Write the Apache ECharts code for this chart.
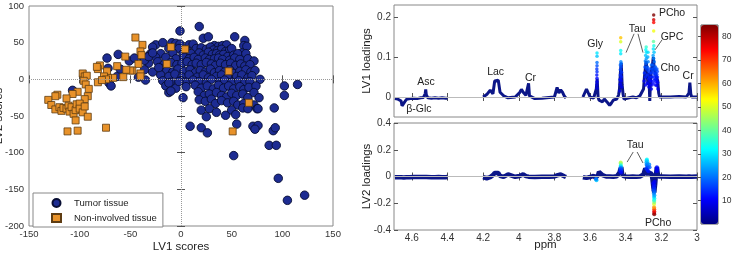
<!DOCTYPE html>
<html>
<head>
<meta charset="utf-8">
<script src="https://cdn.jsdelivr.net/npm/echarts@6/dist/echarts.min.js"></script>
<style>
html, body { margin: 0; padding: 0; background: #fff; }
#chart { width: 733px; height: 253px; }
</style>
</head>
<body>
<div id="chart"></div>
<script>
// PLS-DA scores: [LV1, LV2]
const tumor = [
    [18,72],[-1,66],[22,56],[27,58],[53,58],[63,53],[-25,47],
    [-18,50],[-9,50],[-5,49],[-1,48],[8,47],[12,48],[33,46],[37,45],[41,46],[45,47],[62,46],[65,45],
    [-28,44],[-12,42],[-2,42],[5,40],[15,42],[20,43],[25,41],[29,44],[32,40],[36,39],[40,41],[44,38],[48,40],[50,42],[60,36],
    [-30,35],[-20,35],[-8,36],[2,35],[10,35],[18,36],[22,33],[27,37],[31,34],[35,35],[38,33],[42,34],[46,31],[52,33],[56,35],[64,35],
    [-35,30],[-25,30],[-15,30],[-5,28],[3,30],[8,28],[13,30],[17,27],[24,29],[28,27],[33,28],[37,29],[41,27],[48,26],[53,29],[58,27],[66,28],[72,25],
    [-32,22],[-23,24],[-17,20],[-10,23],[-4,20],[1,22],[6,24],[11,20],[15,22],[20,20],[25,23],[30,21],[34,19],[39,22],[44,20],[49,22],[54,19],[59,21],[63,18],[68,20],
    [-36,13],[-28,10],[-20,15],[-14,12],[-8,10],[-3,14],[3,11],[9,13],[14,9],[19,12],[24,10],[29,14],[33,9],[38,12],[43,10],[48,13],[52,8],[58,11],[64,13],[69,10],[73,12],
    [-20,6],[-12,4],[-6,7],[1,3],[8,6],[16,3],[22,6],[27,2],[35,4],[40,6],[46,3],[55,4],[60,6],[66,2],[70,5],
    [-35,-1],[-18,-2],[-10,-4],[0,-2],[5,-4],[12,-1],[18,-3],[25,-5],[30,0],[38,-3],[43,-1],[50,-4],[57,-2],[63,-4],[68,-3],[78,0],
    [-15,-9],[-5,-12],[5,-10],[14,-8],[20,-12],[26,-9],[32,-13],[37,-8],[42,-12],[47,-9],[52,-13],[58,-10],[62,-14],[67,-11],[74,-9],
    [-12,-18],[2,-25],[17,-17],[23,-22],[28,-20],[35,-18],[40,-22],[45,-24],[50,-19],[55,-22],[61,-20],[66,-25],[72,-18],[77,-25],
    [18,-28],[24,-30],[30,-27],[34,-33],[40,-29],[46,-32],[52,-30],[56,-35],[62,-33],[66,-38],[72,-35],[75,-40],[92,-39],
    [20,-42],[25,-51],[28,-40],[35,-45],[44,-49],[50,-42],[54,-48],[61,-39],[66,-40],[76,-40],[55,-61],[9,-64],[20,-66],[26,-73],
    [71,-64],[76,-63],[73,-68],[91,-70],[93,-66],[87,-90],[94,-90],[96,-135],[105,-165],[122,-158],[52,-104],[102,-9],[115,-7],[102,-22],
    [-107,-15],[-73,29],[-62,34],[-72,15],[-71,-5],[-69,-9],[-63,4],[-60,14],[-51,25],[-46,29],[-38,31],[-36,26],[-32,31],[-28,36],
    [-22,16],[-12,-5],[-10,-16],[-2,-3],[-42,3]
];
const nonInvolved = [
    [-45,57],[-38,47],[-40,38],[-39,33],[-42,21],[-40,8],[-40,4],[-48,12],[-50,12],[-54,13],[-57,3],[-55,31],[-63,18],[-67,2],
    [-73,11],[-72,2],[-76,4],[-74,0],[-80,19],[-82,14],[-83,17],[-82,-4],[-78,-1],[-97,8],[-95,4],[-93,5],[-96,-2],[-94,-7],
    [-91,-13],[-92,-23],[-95,-27],[-102,-17],[-107,-20],[-113,-26],[-122,-21],[-124,-23],[-131,-28],[-128,-35],[-124,-41],
    [-120,-38],[-118,-43],[-116,-39],[-113,-40],[-111,-36],[-110,-44],[-108,-38],[-106,-47],[-104,-42],[-103,-34],[-100,-33],
    [-100,-40],[-97,-45],[-95,-37],[-92,-51],[-104,-56],[-112,-71],[-102,-70],[-74,-66],[-10,44],[4,41],[-14,21],[47,11],[67,-32],[51,-71]
];

// loadings trace (null = excluded spectral region)
const ppm = [
    4.695,4.68,4.67,4.66,4.655,4.645,4.64,4.63,4.61,4.59,4.57,4.55,4.535,4.525,4.522,4.519,4.51,4.49,4.47,4.45,4.43,4.41,4.40,
    null,
    4.20,4.18,4.16,4.145,4.135,4.125,4.115,4.105,4.085,4.06,4.05,4.02,3.995,3.985,3.975,3.96,3.945,3.94,3.91,3.87,3.83,3.80,3.785,3.775,3.765,3.755,3.745,3.735,
    null,
    3.64,3.63,3.62,3.61,3.60,3.58,3.57,3.565,3.56,3.555,3.55,3.53,3.52,3.51,3.50,3.49,3.48,3.47,3.46,3.45,3.44,3.435,3.43,3.425,3.42,3.415,3.41,3.40,3.38,3.36,
    3.34,3.32,3.31,3.30,3.295,3.29,3.285,3.28,3.275,3.27,3.265,3.26,3.255,3.25,3.245,3.24,3.235,3.23,3.225,3.22,3.215,3.21,3.20,3.15,3.10,3.06,3.045,3.04,3.035,3.03,3.00
];
const lv1 = [
    -0.004,-0.005,-0.006,-0.010,-0.022,-0.022,-0.012,-0.006,-0.004,-0.003,-0.004,-0.002,-0.001,0.008,0.019,0.006,-0.002,-0.003,-0.002,-0.003,-0.002,-0.003,-0.003,
    null,
    0.000,0.006,0.017,0.008,0.040,0.044,0.042,0.012,0.003,-0.002,-0.004,0.000,0.011,0.019,0.012,0.004,0.034,0.003,-0.004,-0.003,-0.001,0.000,0.024,0.010,0.018,0.012,0.003,-0.003,
    null,
    0.000,0.005,0.020,0.010,0.000,-0.003,-0.005,0.020,0.045,0.000,-0.008,-0.012,-0.005,-0.010,-0.015,-0.021,-0.015,-0.008,-0.010,-0.005,
    0.005,0.020,0.060,0.085,0.030,0.008,-0.005,0.000,-0.002,0.000,-0.002,0.003,0.008,0.020,0.050,0.070,0.090,0.060,0.030,0.060,
    -0.010,0.050,0.070,0.080,0.100,0.070,0.060,0.065,0.060,0.040,0.010,0.000,0.002,0.000,0.001,0.000,0.010,0.036,0.008,0.000,0.000
];
const lv2 = [
    -0.006,-0.005,-0.006,-0.006,-0.007,-0.007,-0.006,-0.005,-0.005,-0.004,-0.004,-0.003,-0.003,-0.002,-0.001,-0.003,-0.004,-0.005,-0.005,-0.004,-0.005,-0.005,-0.004,
    null,
    -0.005,-0.013,-0.005,0.010,0.026,0.028,0.026,0.005,-0.003,0.016,0.002,-0.002,0.004,0.008,0.016,0.003,-0.001,-0.002,-0.003,-0.002,-0.002,0.000,0.008,0.012,0.015,0.006,0.002,-0.004,
    null,
    -0.005,-0.013,-0.010,0.000,-0.004,0.005,-0.010,-0.020,-0.015,0.010,0.035,0.010,0.003,0.000,-0.002,0.000,0.000,-0.002,0.000,0.002,
    0.010,0.030,0.055,0.070,0.020,0.005,0.000,0.000,-0.002,0.000,-0.001,0.000,0.005,0.015,0.040,0.060,0.070,0.030,0.010,0.030,
    0.020,0.040,0.020,-0.020,-0.080,-0.120,-0.060,0.020,0.070,0.020,0.000,-0.002,0.000,-0.001,0.000,-0.001,0.000,0.002,0.000,-0.001,0.000
];

// coloured points: [ppm, loading, colour value]
const lv1Dots = [
    [3.561,0.110,30],[3.561,0.102,27],[3.561,0.086,20],[3.561,0.078,17],[3.562,0.070,15],[3.561,0.063,14],[3.562,0.055,12],[3.561,0.047,11],[3.561,0.038,10],[3.562,0.030,9],[3.561,0.022,8],
    [3.428,0.148,58],[3.428,0.138,50],[3.428,0.116,33],[3.428,0.108,30],[3.427,0.088,22],[3.425,0.084,20],[3.430,0.080,19],[3.426,0.075,17],[3.430,0.068,16],[3.424,0.062,15],[3.430,0.055,14],[3.425,0.050,13],[3.432,0.044,12],[3.426,0.040,11],[3.430,0.032,10],[3.424,0.025,9],[3.433,0.015,8],
    [3.285,0.125,36],[3.287,0.118,32],[3.284,0.112,30],[3.288,0.104,27],[3.284,0.096,24],[3.290,0.090,21],[3.286,0.084,19],[3.292,0.075,17],[3.283,0.070,16],[3.295,0.060,14],[3.290,0.050,13],[3.297,0.040,11],[3.288,0.030,10],
    [3.275,0.112,29],[3.276,0.100,25],[3.274,0.088,21],[3.278,0.075,18],[3.273,0.065,16],[3.279,0.055,14],[3.272,0.045,12],[3.278,0.035,11],[3.270,0.025,9],
    [3.266,0.070,16],[3.264,0.060,14],[3.266,0.050,13],[3.263,0.040,12],[3.266,0.030,10],
    [3.256,0.080,19],[3.254,0.070,17],[3.257,0.060,15],[3.253,0.050,13],[3.256,0.040,11],[3.252,0.030,10],[3.256,0.020,9],
    [3.243,0.205,85],[3.243,0.193,78],[3.243,0.186,74],[3.243,0.165,52],[3.244,0.139,40],[3.242,0.128,34],[3.245,0.120,30],[3.241,0.112,27],[3.246,0.104,24],[3.243,0.096,22],[3.240,0.088,20],[3.246,0.080,18],[3.241,0.072,17],[3.247,0.065,16],[3.240,0.058,15],[3.245,0.050,13],[3.240,0.042,12],[3.246,0.035,11],
    [3.233,0.075,18],[3.231,0.068,17],[3.234,0.060,15],[3.230,0.052,14],[3.234,0.045,12],[3.229,0.038,11],[3.233,0.030,10],
    [3.225,0.070,17],[3.223,0.064,16],[3.226,0.057,15],[3.222,0.050,13],[3.225,0.043,12],[3.221,0.036,11],[3.225,0.028,10],[3.219,0.020,9]
];
const lv2Dots = [
    [3.566,-0.022,25],[3.564,-0.028,27],[3.566,-0.016,20],
    [3.428,0.105,48],[3.428,0.098,44],[3.427,0.085,35],[3.428,0.075,28],[3.426,0.066,22],[3.430,0.058,18],[3.425,0.050,16],[3.430,0.040,13],[3.426,0.030,11],
    [3.281,0.128,32],[3.283,0.120,30],[3.279,0.112,28],[3.284,0.104,26],[3.278,0.096,24],[3.283,0.088,22],[3.280,0.080,20],[3.276,0.070,17],[3.284,0.060,15],[3.279,0.050,13],[3.273,0.040,12],[3.268,0.090,22],[3.266,0.070,18],
    [3.240,-0.283,85],[3.240,-0.272,82],[3.240,-0.260,76],[3.240,-0.245,70],[3.241,-0.230,62],[3.241,-0.205,50],[3.240,-0.190,42],[3.241,-0.178,36],[3.239,-0.165,32],[3.241,-0.152,28],
    [3.239,-0.140,25],[3.242,-0.128,22],[3.239,-0.115,20],[3.243,-0.102,18],[3.240,-0.090,15],[3.244,-0.078,13],[3.240,-0.065,12],[3.245,-0.050,11],[3.238,-0.040,10],
    [3.225,0.070,12],[3.226,0.060,11],[3.224,0.050,10],[3.226,0.040,9]
];

const ppmTicks = [3, 3.2, 3.4, 3.6, 3.8, 4, 4.2, 4.4, 4.6];
const lv1Ticks = [0, 0.1, 0.2];
const colorTicks = [10, 20, 30, 40, 50, 60, 70, 80];

// peak annotations: [text, ppm, loading]
const lv1Labels = [['Asc',4.52,0.037],['β-Glc',4.56,-0.03],['Lac',4.13,0.062],['Cr',3.934,0.047],['Gly',3.571,0.133],
    ['Tau',3.336,0.17],['PCho',3.14,0.21],['GPC',3.14,0.15],['Cho',3.151,0.072],['Cr',3.05,0.052]];
const lv1Leaders = [[[3.353,0.158],[3.398,0.111]],[[3.331,0.158],[3.303,0.111]],[[3.196,0.143],[3.235,0.118]]];
const lv2Labels = [['Tau',3.347,0.235],['PCho',3.218,-0.348]];
const lv2Leaders = [[[3.358,0.183],[3.392,0.108]],[[3.336,0.183],[3.303,0.101]]];

const jet = ['#000080','#0000ff','#0080ff','#00ffff','#80ff80','#ffff00','#ff8000','#ff0000','#800000'];
const font = "'Liberation Sans', Arial, sans-serif";
const navy = '#0c1688';

function traceData(vals) {
    return ppm.map((p, i) => p === null ? [null, null] : [p, vals[i]]);
}

function frame(gridIndex, pos, range, extra) {
    return Object.assign({
        type: 'value', gridIndex: gridIndex, position: pos,
        min: range[0], max: range[1],
        axisLine: { show: false },
        axisTick: { inside: true, length: 4, lineStyle: { color: '#555' } },
        axisLabel: { color: '#333', fontSize: 10, fontFamily: font, margin: 3 },
        splitLine: { show: false },
        nameMoveOverlap: false,
        nameTextStyle: { color: '#222', fontSize: 11.5, fontFamily: font }
    }, extra || {});
}

function labelMarks(labels) {
    return {
        symbol: 'rect', symbolSize: 1, silent: true,
        itemStyle: { color: 'rgba(0,0,0,0)' },
        label: { show: true, position: 'inside', formatter: '{b}', color: '#222', fontSize: 10.5, fontFamily: font },
        data: labels.map(l => ({ name: l[0], coord: [l[1], l[2]] }))
    };
}

function leaderMarks(leaders) {
    return {
        symbol: ['none', 'none'], silent: true,
        label: { show: false },
        lineStyle: { color: '#333', width: 0.8, type: 'solid' },
        data: leaders.map(l => [{ coord: l[0] }, { coord: l[1] }])
    };
}

function zeroLine(xi, yi, opts) {
    return {
        type: 'line', xAxisIndex: xi, yAxisIndex: yi, data: [], z: 1, silent: true,
        markLine: Object.assign({ symbol: ['none', 'none'], silent: true, label: { show: false }, animation: false }, opts)
    };
}

const noLabel = { show: false };
const grid = { show: true, borderColor: '#888', borderWidth: 1, backgroundColor: '#fff', outerBoundsMode: 'none', containLabel: false };

const chart = echarts.init(document.getElementById('chart'));
chart.setOption({
    animation: false,
    textStyle: { fontFamily: font },
    grid: [
        Object.assign({ left: 29, top: 6, width: 304, height: 220 }, grid),
        Object.assign({ left: 394, top: 5, width: 303, height: 112 }, grid),
        Object.assign({ left: 394, top: 123, width: 303, height: 107 }, grid),
        Object.assign({ left: 701, top: 25, width: 17, height: 199 }, grid, { backgroundColor: 'transparent', borderColor: '#555' })
    ],
    xAxis: [
        frame(0, 'bottom', [-150, 150], { interval: 50, name: 'LV1 scores', nameLocation: 'middle', nameGap: 15,
            axisLabel: { color: '#333', fontSize: 9.5, fontFamily: font, margin: 3 } }),
        frame(0, 'top', [-150, 150], { interval: 50, axisLabel: noLabel }),
        frame(1, 'bottom', [3, 4.7], { inverse: true, axisLabel: { show: false, customValues: ppmTicks },
            axisTick: { inside: true, length: 4, lineStyle: { color: '#555' }, customValues: ppmTicks } }),
        frame(1, 'top', [3, 4.7], { inverse: true, axisLabel: { show: false, customValues: ppmTicks },
            axisTick: { inside: true, length: 4, lineStyle: { color: '#555' }, customValues: ppmTicks } }),
        frame(2, 'bottom', [3, 4.7], { inverse: true, name: 'ppm', nameLocation: 'middle', nameGap: 9,
            axisLabel: { color: '#333', fontSize: 10, fontFamily: font, margin: 3, customValues: ppmTicks },
            axisTick: { inside: true, length: 4, lineStyle: { color: '#555' }, customValues: ppmTicks } }),
        frame(2, 'top', [3, 4.7], { inverse: true, axisLabel: { show: false, customValues: ppmTicks },
            axisTick: { inside: true, length: 4, lineStyle: { color: '#555' }, customValues: ppmTicks } }),
        frame(3, 'bottom', [0, 1], { show: false })
    ],
    yAxis: [
        frame(0, 'left', [-200, 100], { interval: 50, name: 'LV2 scores', nameLocation: 'middle', nameGap: 24,
            axisLabel: { color: '#333', fontSize: 9.5, fontFamily: font, margin: 5 } }),
        frame(0, 'right', [-200, 100], { interval: 50, axisLabel: noLabel }),
        frame(1, 'left', [-0.05, 0.23], { name: 'LV1 loadings', nameLocation: 'middle', nameGap: 21,
            axisLabel: { color: '#333', fontSize: 10, fontFamily: font, margin: 3, customValues: lv1Ticks },
            axisTick: { inside: true, length: 4, lineStyle: { color: '#555' }, customValues: lv1Ticks } }),
        frame(1, 'right', [-0.05, 0.23], { axisLabel: { show: false, customValues: lv1Ticks },
            axisTick: { inside: true, length: 4, lineStyle: { color: '#555' }, customValues: lv1Ticks } }),
        frame(2, 'left', [-0.4, 0.4], { interval: 0.2, name: 'LV2 loadings', nameLocation: 'middle', nameGap: 21 }),
        frame(2, 'right', [-0.4, 0.4], { interval: 0.2, axisLabel: noLabel }),
        frame(3, 'right', [0, 85], {
            axisLabel: { color: '#333', fontSize: 8.5, fontFamily: font, margin: 4, customValues: colorTicks },
            axisTick: { inside: true, length: 3, lineStyle: { color: '#555' }, customValues: colorTicks } })
    ],
    visualMap: {
        type: 'continuous', min: 0, max: 85, dimension: 2, seriesIndex: [5, 7],
        inRange: { color: jet }, calculable: false, hoverLink: false,
        left: 701, top: 25, itemWidth: 17, itemHeight: 199, padding: 0
    },
    legend: {
        data: ['Tumor tissue', 'Non-involved tissue'],
        orient: 'vertical', left: 33, top: 193,
        itemWidth: 9, itemHeight: 8, itemGap: 5,
        padding: [5, 6, 4, 18],
        backgroundColor: '#fff', borderColor: '#888', borderWidth: 1, borderRadius: 0,
        textStyle: { color: '#222', fontSize: 9.5, fontFamily: font, padding: [0, 0, 0, 8] }
    },
    series: [
        zeroLine(0, 0, { lineStyle: { color: '#999', width: 1, type: 'dotted' }, data: [{ xAxis: 0 }, { yAxis: 0 }] }),
        {
            name: 'Tumor tissue', type: 'scatter', xAxisIndex: 0, yAxisIndex: 0, z: 2,
            symbol: 'circle', symbolSize: 8.5, data: tumor,
            itemStyle: { color: '#1d2c92', borderColor: '#070d33', borderWidth: 0.9, opacity: 1 }
        },
        {
            name: 'Non-involved tissue', type: 'scatter', xAxisIndex: 0, yAxisIndex: 0, z: 3,
            symbol: 'rect', symbolSize: 7, data: nonInvolved,
            itemStyle: { color: '#e8922a', borderColor: '#5e3c12', borderWidth: 0.8, opacity: 1 }
        },
        zeroLine(2, 2, { lineStyle: { color: '#bbb', width: 1, type: 'solid' }, data: [{ yAxis: 0 }] }),
        {
            name: 'LV1', type: 'line', xAxisIndex: 2, yAxisIndex: 2, z: 2,
            data: traceData(lv1), showSymbol: false, connectNulls: false,
            lineStyle: { color: navy, width: 3 }, itemStyle: { color: navy },
            markPoint: labelMarks(lv1Labels), markLine: leaderMarks(lv1Leaders)
        },
        {
            name: 'LV1 pts', type: 'scatter', xAxisIndex: 2, yAxisIndex: 2, z: 3,
            symbolSize: 3.5, data: lv1Dots
        },
        {
            name: 'LV2', type: 'line', xAxisIndex: 4, yAxisIndex: 4, z: 2,
            data: traceData(lv2), showSymbol: false, connectNulls: false,
            lineStyle: { color: navy, width: 4.5 }, itemStyle: { color: navy },
            markPoint: labelMarks(lv2Labels), markLine: leaderMarks(lv2Leaders)
        },
        {
            name: 'LV2 pts', type: 'scatter', xAxisIndex: 4, yAxisIndex: 4, z: 3,
            symbolSize: 4, data: lv2Dots
        },
        zeroLine(4, 4, { lineStyle: { color: '#bbb', width: 1, type: 'solid' }, data: [{ yAxis: 0 }] })
    ]
});
</script>
</body>
</html>
